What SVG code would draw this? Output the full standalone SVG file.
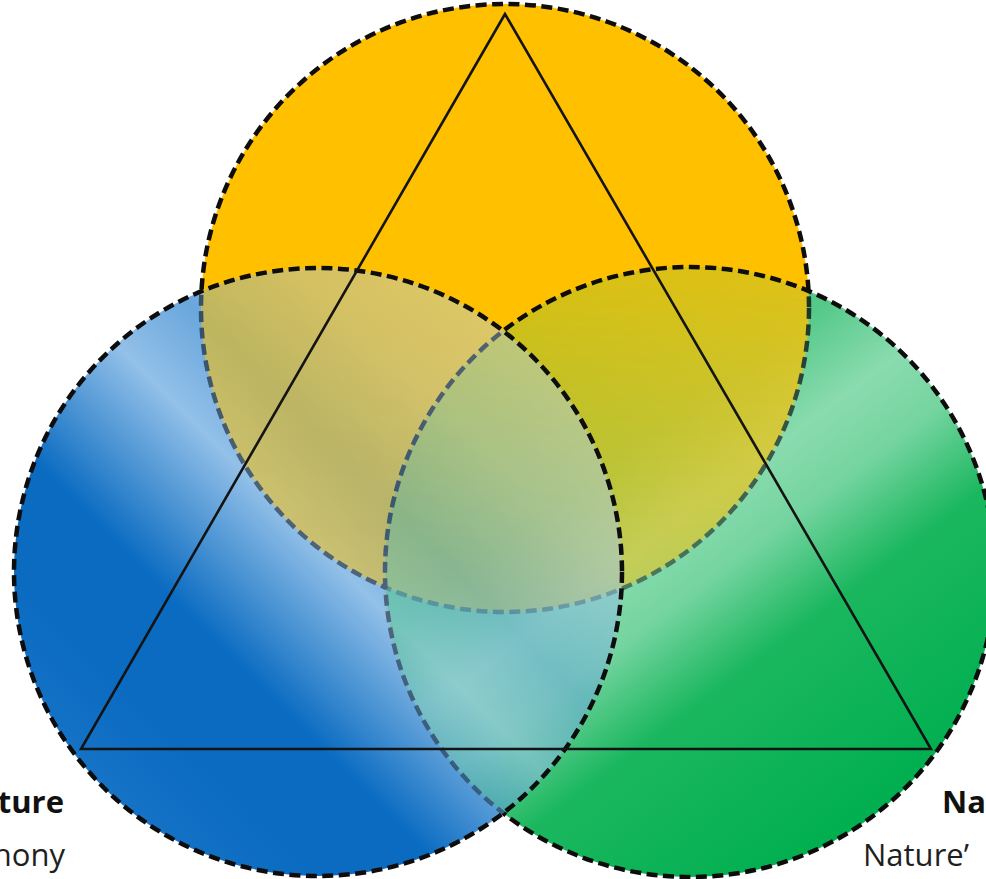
<svg xmlns="http://www.w3.org/2000/svg" xmlns:xlink="http://www.w3.org/1999/xlink" width="986" height="879" viewBox="0 0 986 879">
<style>
 .dash{fill:none;stroke:#0d0d0d;stroke-width:4.5;stroke-dasharray:11 5.5}
 .tri{fill:none;stroke:#141414;stroke-width:2.6;stroke-linejoin:miter}
 .lbl{font-family:"Open Sans","Noto Sans","Liberation Sans",sans-serif;font-size:31px;fill:#1f1f1f}
 .b{font-weight:bold;fill:#111}
</style>
<defs>
 <linearGradient id="gB" gradientUnits="userSpaceOnUse" x1="102" y1="788" x2="534" y2="356">
  <stop offset="0" stop-color="#1673C6"/>
  <stop offset="0.14" stop-color="#0A6BC1"/>
  <stop offset="0.3" stop-color="#0A6BC1"/>
  <stop offset="0.53" stop-color="#92C0E8"/>
  <stop offset="0.66" stop-color="#6AA7DD"/>
  <stop offset="0.84" stop-color="#9CC4EA"/>
  <stop offset="1" stop-color="#B0D0EE"/>
 </linearGradient>
 <linearGradient id="gG" gradientUnits="userSpaceOnUse" x1="507" y1="328" x2="873" y2="816">
  <stop offset="0" stop-color="#2DBE6E"/>
  <stop offset="0.28" stop-color="#55C989"/>
  <stop offset="0.42" stop-color="#8ADBAF"/>
  <stop offset="0.53" stop-color="#74D49F"/>
  <stop offset="0.68" stop-color="#1BB75F"/>
  <stop offset="1" stop-color="#00AF4F"/>
 </linearGradient>
 <linearGradient id="mgG" gradientUnits="userSpaceOnUse" x1="0" y1="280" x2="0" y2="600">
  <stop offset="0" stop-color="#fff" stop-opacity="0.82"/>
  <stop offset="1" stop-color="#fff" stop-opacity="0.45"/>
 </linearGradient>
 <linearGradient id="mgB" gradientUnits="userSpaceOnUse" x1="0" y1="280" x2="0" y2="820">
  <stop offset="0" stop-color="#fff" stop-opacity="0.58"/>
  <stop offset="0.6" stop-color="#fff" stop-opacity="0.5"/>
  <stop offset="1" stop-color="#fff" stop-opacity="0.42"/>
 </linearGradient>
 <mask id="mG" maskUnits="userSpaceOnUse" x="0" y="0" width="986" height="879"><rect width="986" height="879" fill="url(#mgG)"/></mask>
 <mask id="mB" maskUnits="userSpaceOnUse" x="0" y="0" width="986" height="879"><rect width="986" height="879" fill="url(#mgB)"/></mask>
 <clipPath id="clipG"><circle cx="690" cy="572" r="305"/></clipPath>
 <clipPath id="clipB"><circle cx="318" cy="572" r="304"/></clipPath>
</defs>

<g id="orange-circle">
 <circle cx="505" cy="308" r="304" fill="#FFC000"/>
 <circle cx="505" cy="308" r="304" class="dash"/>
</g>

<g id="green-circle">
 <circle cx="690" cy="572" r="305" fill="url(#gG)"/>
 <g clip-path="url(#clipG)"><g mask="url(#mG)"><use href="#orange-circle" xlink:href="#orange-circle"/></g></g>
 <circle cx="690" cy="572" r="305" class="dash"/>
</g>

<g id="blue-circle">
 <circle cx="318" cy="572" r="304" fill="url(#gB)"/>
 <g clip-path="url(#clipB)"><g mask="url(#mB)">
  <use href="#orange-circle" xlink:href="#orange-circle"/>
  <use href="#green-circle" xlink:href="#green-circle"/>
 </g></g>
 <circle cx="318" cy="572" r="304" class="dash"/>
</g>

<g id="triangle">
 <polygon class="tri" points="505,14 81,749 931,749"/>
</g>

<g id="labels">
 <text class="lbl b" x="64" y="813" text-anchor="end">ture</text>
 <text class="lbl" x="65" y="866" text-anchor="end">hony</text>
 <text class="lbl b" x="942" y="813">Na</text>
 <text class="lbl" x="863" y="866">Nature’</text>
</g>
</svg>
